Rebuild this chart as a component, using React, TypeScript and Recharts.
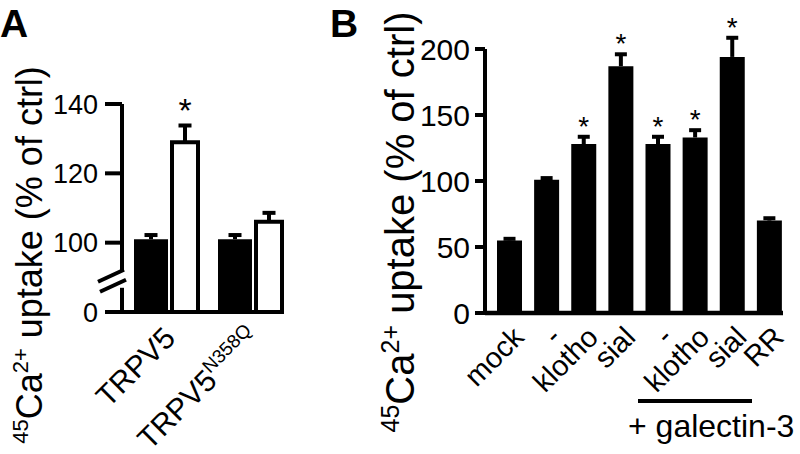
import React from "react";
import { BarChart, Bar, XAxis, YAxis, LabelList } from "recharts";

const FONT = "'Liberation Sans', Arial, Helvetica, sans-serif";

// Panel A: ctrl (black) vs treated (white), y axis broken between 0 and 100
const groupsA = ["TRPV5", "TRPV5"];
const supA = ["", "N358Q"];
const ctrlA = [101, 101];
const ctrlErrA = [1.2, 1.2];
const treatA = [129, 106];
const treatErrA = [4.8, 2.6];
const starCtrlA = [false, false];
const starTreatA = [true, false];
const yTicksA = [0, 100, 120, 140];
const axisCutA = 80; // part of the scale hidden by the break
const breakA = 9; // where the break marks sit (plotted units)

// Panel B
const groupsB = ["mock", "-", "klotho", "sial", "-", "klotho", "sial", "RR"];
const uptakeB = [55, 101, 128, 187, 128, 133, 194, 70];
const errB = [1.2, 1.2, 5.5, 9, 5.5, 5.5, 14.5, 1.8];
const starB = [false, false, true, true, true, true, true, false];
const yTicksB = [0, 50, 100, 150, 200];

const dataA = groupsA.map((g, i) => ({
  key: `a${i}`,
  ctrl: ctrlA[i] - axisCutA,
  treat: treatA[i] - axisCutA,
}));
const plotTicksA = [0, breakA, ...yTicksA.filter((t) => t > 0).map((t) => t - axisCutA)];

const dataB = groupsB.map((g, i) => ({ key: `b${i}`, uptake: uptakeB[i] }));

// error bar + significance star, drawn on top of each bar
const errorMarks = (
  errs: number[],
  stars: boolean[],
  capHalf: number,
  starSize: number,
  starGap: number
) =>
  function ErrorMark(props: any) {
    const box = props.viewBox ?? props;
    const { x, y, width, height } = box;
    const i = props.index;
    const v = Number(props.value);
    if (!v || i == null) return null;
    const top = y - (errs[i] * height) / v;
    const cx = x + width / 2;
    return (
      <g>
        <line x1={cx} x2={cx} y1={y} y2={top} stroke="#000" strokeWidth={4} />
        <line x1={cx - capHalf} x2={cx + capHalf} y1={top} y2={top} stroke="#000" strokeWidth={4} />
        {stars[i] && (
          <text
            x={cx}
            y={top - 2 - starGap + 0.57 * starSize}
            textAnchor="middle"
            fontSize={starSize}
            fontFamily={FONT}
            fill="#000"
          >
            *
          </text>
        )}
      </g>
    );
  };

function YTickA(props: any) {
  const { x, y, payload } = props;
  const v = payload.value;
  if (v === breakA) {
    return (
      <g>
        <line x1={x} x2={x} y1={y - 9} y2={y + 7} stroke="#fff" strokeWidth={8} />
        <line x1={x - 24} y1={y + 1} x2={x + 2} y2={y - 11} stroke="#000" strokeWidth={4} />
        <line x1={x - 22} y1={y + 11} x2={x + 4} y2={y - 1} stroke="#000" strokeWidth={4} />
      </g>
    );
  }
  const label = v === 0 ? "0" : String(v + axisCutA);
  return (
    <g>
      <line x1={x - 17} x2={x} y1={y} y2={y} stroke="#000" strokeWidth={4} />
      <text x={x - 24} y={y} dy="0.36em" textAnchor="end" fontSize={27} fontFamily={FONT} fill="#000">
        {label}
      </text>
    </g>
  );
}

function YTickB(props: any) {
  const { x, y, payload } = props;
  return (
    <g>
      <line x1={x - 10} x2={x} y1={y} y2={y} stroke="#000" strokeWidth={4} />
      <text x={x - 15} y={y} dy="0.36em" textAnchor="end" fontSize={30} fontFamily={FONT} fill="#000">
        {payload.value}
      </text>
    </g>
  );
}

function XTickA(props: any) {
  const x = Number(props.x);
  const y = Number(props.y);
  const i = props.payload.index;
  return (
    <g transform={`translate(${x + 11} ${y + 28}) rotate(-45)`}>
      <text x={0} y={0} textAnchor="end" fontSize={30} fontFamily={FONT} fill="#000">
        {groupsA[i]}
        {supA[i] ? (
          <tspan dy={-12} fontSize={19}>
            {supA[i]}
          </tspan>
        ) : null}
      </text>
    </g>
  );
}

function XTickB(props: any) {
  const x = Number(props.x);
  const y = Number(props.y);
  return (
    <g transform={`translate(${x + 16} ${y + 26}) rotate(-45)`}>
      <text x={0} y={0} textAnchor="end" fontSize={29} fontFamily={FONT} fill="#000">
        {groupsB[props.payload.index]}
      </text>
    </g>
  );
}

function UptakeLabel({ cx, cy, size }: { cx: number; cy: number; size: number }) {
  const sup = Math.round(size * 0.62);
  const shift = size * 0.38;
  return (
    <g transform={`translate(${cx} ${cy}) rotate(-90)`}>
      <text x={0} y={0} textAnchor="middle" fontSize={size} fontFamily={FONT} fill="#000">
        <tspan fontSize={sup} dy={-shift}>45</tspan>
        <tspan dy={shift}>Ca</tspan>
        <tspan fontSize={sup} dy={-shift}>2+</tspan>
        <tspan dy={shift}> uptake (% of ctrl)</tspan>
      </text>
    </g>
  );
}

export default function App() {
  return (
    <div
      style={{
        position: "fixed",
        left: 0,
        top: 0,
        width: 800,
        height: 454,
        background: "#fff",
        overflow: "hidden",
      }}
    >
      <div style={{ position: "absolute", left: 0, top: 0 }}>
        <BarChart
          width={300}
          height={454}
          data={dataA}
          margin={{ top: 104, right: 17, bottom: 42, left: 0 }}
        >
          <XAxis
            dataKey="key"
            height={100}
            interval={0}
            padding={{ left: 2, right: -9 }}
            axisLine={{ stroke: "#000", strokeWidth: 4 }}
            tickLine={false}
            tickSize={0}
            tickMargin={0}
            tick={<XTickA />}
          />
          <YAxis
            width={122}
            type="number"
            domain={[0, 60]}
            ticks={plotTicksA}
            interval={0}
            axisLine={{ stroke: "#000", strokeWidth: 4 }}
            tickLine={false}
            tickSize={0}
            tickMargin={0}
            tick={<YTickA />}
          />
          <Bar dataKey="ctrl" fill="#000" barSize={34} isAnimationActive={false}>
            <LabelList dataKey="ctrl" content={errorMarks(ctrlErrA, starCtrlA, 6.5, 34, 21)} />
          </Bar>
          <Bar
            dataKey="treat"
            fill="#fff"
            stroke="#000"
            strokeWidth={4}
            barSize={26}
            isAnimationActive={false}
          >
            <LabelList dataKey="treat" content={errorMarks(treatErrA, starTreatA, 6.5, 34, 21)} />
          </Bar>
        </BarChart>
      </div>

      <div style={{ position: "absolute", left: 300, top: 0 }}>
        <BarChart
          width={500}
          height={454}
          data={dataB}
          margin={{ top: 49, right: 17, bottom: 41, left: 0 }}
        >
          <XAxis
            dataKey="key"
            height={100}
            interval={0}
            padding={{ left: 6, right: -5 }}
            axisLine={{ stroke: "#000", strokeWidth: 4.5 }}
            tickLine={false}
            tickSize={0}
            tickMargin={0}
            tick={<XTickB />}
          />
          <YAxis
            width={185}
            type="number"
            domain={[0, 200]}
            ticks={yTicksB}
            interval={0}
            axisLine={{ stroke: "#000", strokeWidth: 4 }}
            tickLine={false}
            tickSize={0}
            tickMargin={0}
            tick={<YTickB />}
          />
          <Bar dataKey="uptake" fill="#000" barSize={25} isAnimationActive={false}>
            <LabelList dataKey="uptake" content={errorMarks(errB, starB, 6, 28, 15)} />
          </Bar>
        </BarChart>
      </div>

      <svg
        width={800}
        height={454}
        style={{ position: "absolute", left: 0, top: 0, pointerEvents: "none" }}
      >
        <text x={0} y={37} fontSize={39} fontWeight="bold" fontFamily={FONT} fill="#000">
          A
        </text>
        <text x={330} y={37} fontSize={39} fontWeight="bold" fontFamily={FONT} fill="#000">
          B
        </text>
        <UptakeLabel cx={42} cy={255} size={36} />
        <UptakeLabel cx={414} cy={222} size={40} />
        <line x1={638} x2={752} y1={401} y2={401} stroke="#000" strokeWidth={4} />
        <text x={628} y={437} fontSize={32} fontFamily={FONT} fill="#000">
          + galectin-3
        </text>
      </svg>
    </div>
  );
}
